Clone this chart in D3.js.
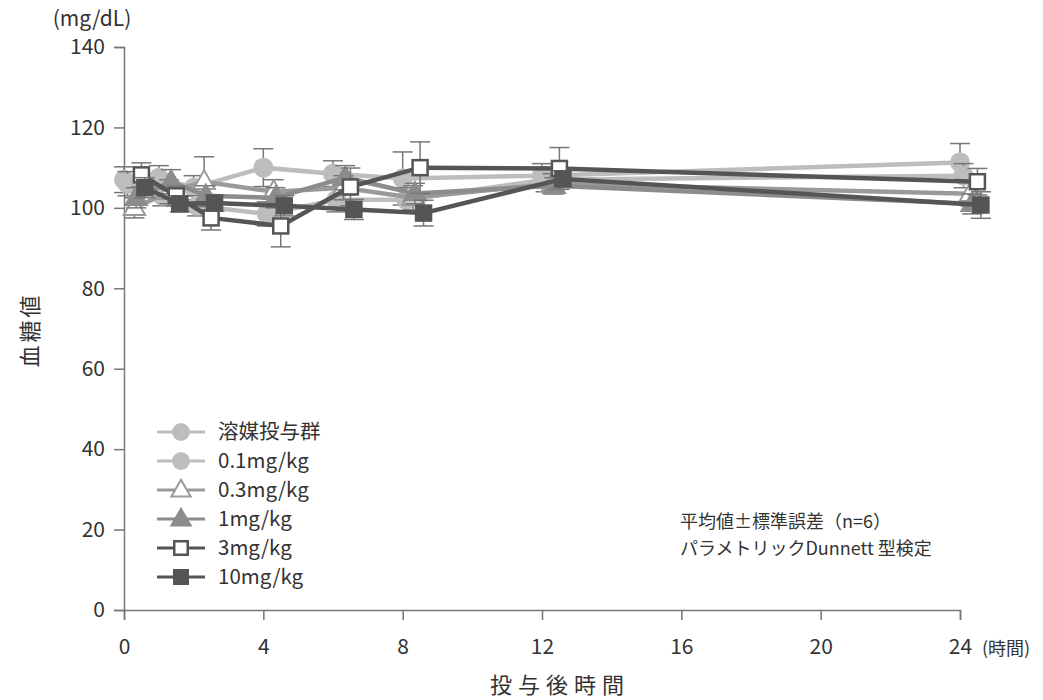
<!DOCTYPE html>
<html>
<head>
<meta charset="utf-8">
<script src="https://cdn.jsdelivr.net/npm/d3@7"></script>
<style>
  body { margin: 0; background: #fff; }
  text { font-family: "Noto Sans CJK JP", "Noto Sans", sans-serif; fill: #333; }
</style>
</head>
<body>
<script>
// data
var times = [0, 1, 2, 4, 6, 8, 12, 24];
var groups = ["溶媒投与群", "0.1mg/kg", "0.3mg/kg", "1mg/kg", "3mg/kg", "10mg/kg"];
var vehicle   = [107, 107.5, 105, 110, 108.5, 107.3, 108, 111.3];
var vehicleSE = [3.2, 3, 3, 4.7, 3.2, 6.6, 3, 4.7];
var dose01    = [106, 103, 100.5, 98.5, 102, 102, 107, 108];
var dose01SE  = [3, 2.5, 2.5, 3, 3, 3, 3, 3];
var dose03    = [100, 104, 106.5, 104, 105, 102.5, 106, 103.5];
var dose03SE  = [2.5, 3, 6.2, 3, 3, 3, 2.5, 3];
var dose1     = [102.5, 106.5, 103, 102.5, 107.5, 103.6, 105.5, 101];
var dose1SE   = [2.5, 3, 2.5, 2.5, 3, 2.5, 2, 2.5];
var dose3     = [108.2, 103, 97.5, 95.5, 105.2, 110, 109.8, 106.5];
var dose3SE   = [3, 2.5, 3, 5.2, 4.7, 6.4, 5.2, 3.3];
var dose10    = [105, 101, 101.2, 100.5, 99.6, 98.7, 107.2, 100.7];
var dose10SE  = [2.5, 2, 2, 2.5, 2.5, 3.2, 2, 3.3];
var yTicks = [0, 20, 40, 60, 80, 100, 120, 140];
var xTicks = [0, 4, 8, 12, 16, 20, 24];

var series = [
  { name: groups[0], vals: vehicle, se: vehicleSE, shift: 0,    shape: "circle",   line: "#bdbdbd", fill: "#bdbdbd", stroke: "#bdbdbd" },
  { name: groups[1], vals: dose01,  se: dose01SE,  shift: 0.1,  shape: "circle",   line: "#bdbdbd", fill: "#bdbdbd", stroke: "#bdbdbd" },
  { name: groups[2], vals: dose03,  se: dose03SE,  shift: 0.3,  shape: "triangle", line: "#9a9a9a", fill: "#fff",    stroke: "#9a9a9a" },
  { name: groups[3], vals: dose1,   se: dose1SE,   shift: 0.35, shape: "triangle", line: "#8c8c8c", fill: "#8c8c8c", stroke: "#8c8c8c" },
  { name: groups[4], vals: dose3,   se: dose3SE,   shift: 0.5,  shape: "square",   line: "#555",    fill: "#fff",    stroke: "#555" },
  { name: groups[5], vals: dose10,  se: dose10SE,  shift: 0.6,  shape: "square",   line: "#555",    fill: "#555",    stroke: "#555" }
];

var width = 1043, height = 700;
var svg = d3.select("body").append("svg")
  .attr("width", width).attr("height", height);

var x = d3.scaleLinear().domain([0, 24]).range([124, 960]);
var y = d3.scaleLinear().domain([0, 140]).range([610, 47]);

var axisColor = "#777";

// y axis
var yAxis = svg.append("g").attr("transform", "translate(124,0)")
  .call(d3.axisLeft(y).tickValues(yTicks).tickSize(10).tickPadding(9));
// x axis
var xAxis = svg.append("g").attr("transform", "translate(0,610)")
  .call(d3.axisBottom(x).tickValues(xTicks).tickSize(10).tickPadding(19));
[xAxis, yAxis].forEach(function(g) {
  g.select(".domain").attr("stroke", axisColor).attr("stroke-width", 1.5);
  g.selectAll(".tick line").attr("stroke", axisColor).attr("stroke-width", 1.5);
  g.selectAll(".tick text").style("font-size", "21px").attr("fill", "#333")
    .style("font-family", "'Noto Sans CJK JP', sans-serif");
});

svg.append("text").attr("x", 982).attr("y", 655).style("font-size", "18px").text("(時間)");
svg.append("text").attr("x", 92).attr("y", 26).attr("text-anchor", "middle").style("font-size", "21px").text("(mg/dL)");
svg.append("text").attr("x", 560).attr("y", 693).attr("text-anchor", "middle")
  .style("font-size", "22px").style("letter-spacing", "6px").text("投与後時間");
svg.append("text").attr("transform", "translate(38,330) rotate(-90)").attr("text-anchor", "middle")
  .style("font-size", "22px").style("letter-spacing", "3px").text("血糖値");

function drawMarker(g, s, cx, cy, scale) {
  scale = scale || 1;
  if (s.shape === "circle") {
    g.append("circle").attr("cx", cx).attr("cy", cy).attr("r", 10 * scale)
      .attr("fill", s.fill);
  } else if (s.shape === "square") {
    var h = 7.5 * scale;
    g.append("rect").attr("x", cx - h).attr("y", cy - h).attr("width", 2 * h).attr("height", 2 * h)
      .attr("fill", s.fill).attr("stroke", s.stroke).attr("stroke-width", 2.5);
  } else {
    g.append("path").attr("d", d3.symbol().type(d3.symbolTriangle).size(200 * scale * scale)())
      .attr("transform", "translate(" + cx + "," + (cy + 1) + ")")
      .attr("fill", s.fill).attr("stroke", s.stroke).attr("stroke-width", 2);
  }
}

var line = d3.line()
  .x(function(d) { return x(d.t); })
  .y(function(d) { return y(d.v); });

series.forEach(function(s) {
  var pts = times.map(function(t, i) { return { t: t + s.shift, v: s.vals[i], se: s.se[i] }; });
  var g = svg.append("g");
  // error bars
  pts.forEach(function(p) {
    var px = x(p.t);
    g.append("line").attr("x1", px).attr("x2", px)
      .attr("y1", y(p.v + p.se)).attr("y2", y(p.v - p.se))
      .attr("stroke", "#777").attr("stroke-width", 1.5);
    [p.v + p.se, p.v - p.se].forEach(function(v) {
      g.append("line").attr("x1", px - 10).attr("x2", px + 10)
        .attr("y1", y(v)).attr("y2", y(v))
        .attr("stroke", "#777").attr("stroke-width", 1.5);
    });
  });
  g.append("path").datum(pts).attr("d", line)
    .attr("fill", "none").attr("stroke", s.line).attr("stroke-width", 4.5);
  pts.forEach(function(p) { drawMarker(g, s, x(p.t), y(p.v)); });
});

// legend
var leg = svg.append("g");
series.forEach(function(s, i) {
  var ly = 432 + i * 29;
  leg.append("line").attr("x1", 157).attr("x2", 205).attr("y1", ly).attr("y2", ly)
    .attr("stroke", s.line).attr("stroke-width", 3);
  drawMarker(leg, s, 181, ly, 0.9);
  leg.append("text").attr("x", 218).attr("y", ly + 7).style("font-size", "20.5px").text(s.name);
});

svg.append("text").attr("x", 680).attr("y", 528).style("font-size", "18px").text("平均値±標準誤差（n=6）");
svg.append("text").attr("x", 680).attr("y", 555).style("font-size", "18px").text("パラメトリックDunnett 型検定");
</script>
</body>
</html>
